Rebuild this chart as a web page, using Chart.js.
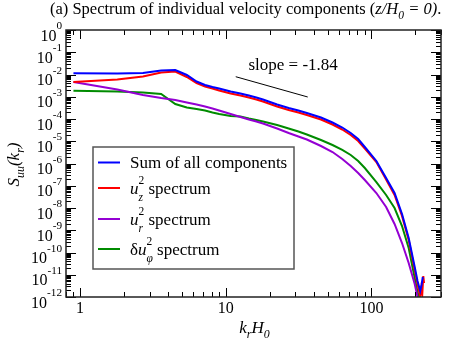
<!DOCTYPE html>
<html>
<head>
<meta charset="utf-8">
<script src="https://cdn.jsdelivr.net/npm/chart.js@4.4.1/dist/chart.umd.min.js"></script>
<style>
body { margin: 0; background: #fff; }
#wrap { width: 457px; height: 342px; }
</style>
</head>
<body>
<div id="wrap"><canvas id="specChart"></canvas></div>
<script>
// k_r H_0 sample points shared by the four spectra
const krH0 = [0.9, 1.8, 2.7, 3.6, 4.5, 5.4, 6.3, 7.2, 8.1, 9, 10.8, 12.6, 14.4, 16.2, 18, 22.5, 27, 31.5, 36, 45, 54, 63, 72, 81, 90, 108, 126, 144, 162, 180, 198, 207];

const sumAll = [1.13e-2, 1.11e-2, 1.17e-2, 1.51e-2, 1.59e-2, 9.5e-3, 4.85e-3, 3.37e-3, 2.74e-3, 2.35e-3, 1.72e-3, 1.40e-3, 1.14e-3, 9.25e-4, 7.52e-4, 4.49e-4, 3.12e-4, 2.41e-4, 1.86e-4, 1.17e-4, 6.96e-5, 4.15e-5, 2.35e-5, 1.26e-5, 5.52e-6, 1.30e-6, 2.23e-7, 4.72e-8, 5.37e-9, 4.49e-10, 2.23e-11, 5.24e-12];
const sumTailK = [216, 220.5, 225];
const sumTail = [1.86e-12, 3.46e-12, 7.93e-12];

const uzSpec = [4.60e-3, 5.96e-3, 8.13e-3, 1.23e-2, 1.36e-2, 7.72e-3, 4.15e-3, 2.89e-3, 2.35e-3, 1.91e-3, 1.40e-3, 1.14e-3, 9.25e-4, 7.52e-4, 6.12e-4, 3.65e-4, 2.54e-4, 1.96e-4, 1.51e-4, 9.50e-5, 5.66e-5, 3.37e-5, 1.91e-5, 1.03e-5, 4.72e-6, 1.17e-6, 1.91e-7, 3.84e-8, 4.37e-9, 3.65e-10, 1.63e-11, 3.84e-12];
const uzTailK = [216, 219.6, 223.2, 226.8, 229.5];
const uzTail = [1.05e-12, 2.54e-12, 1.36e-12, 8.8e-12, 4.26e-12];

const urSpec = [4.60e-3, 2.12e-3, 1.20e-3, 8.79e-4, 7.14e-4, 5.52e-4, 4.49e-4, 3.65e-4, 2.96e-4, 2.41e-4, 1.68e-4, 1.23e-4, 9.50e-5, 7.73e-5, 6.28e-5, 3.74e-5, 2.35e-5, 1.63e-5, 1.20e-5, 6.12e-6, 3.29e-6, 1.59e-6, 7.72e-7, 3.74e-7, 1.81e-7, 4.72e-8, 1.11e-8, 1.91e-9, 2.67e-10, 3.37e-11, 3.84e-12, 1.0e-12];

const uphiSpec = [1.87e-3, 1.72e-3, 1.55e-3, 1.33e-3, 4.72e-4, 3.29e-4, 2.81e-4, 2.41e-4, 1.96e-4, 1.68e-4, 1.36e-4, 1.29e-4, 1.05e-4, 9.02e-5, 7.73e-5, 5.37e-5, 3.74e-5, 2.74e-5, 2.01e-5, 1.14e-5, 6.78e-6, 4.05e-6, 2.41e-6, 1.30e-6, 6.28e-7, 1.47e-7, 3.84e-8, 1.0e-8, 1.55e-9, 1.59e-10, 7.14e-12, 1.68e-12];
const uphiTailK = [211.5];
const uphiTail = [1.0e-12];

// reference slope line
const slopeK = [11.7, 36.5];
const slopeS = [7.96e-3, 9.75e-4];

const seriesColors = ["#0000ff", "#ff0000", "#9400d3", "#008b00"];
const xTickLabels = [1, 10, 100];
const yTickExps = [0, -1, -2, -3, -4, -5, -6, -7, -8, -9, -10, -11, -12];

function pts(ks, vals) {
  return ks.map((k, i) => ({ x: k, y: vals[i] }));
}

const FAM = '"Liberation Serif", "Times New Roman", serif';
function fnt(size, italic) {
  return (italic ? "italic " : "") + size + "px " + FAM;
}

// parts: {t, i (italic), sub, sup}
function drawRich(ctx, parts, x, y, size, align, supDy, subDy) {
  const small = size * 0.7;
  supDy = supDy === undefined ? -0.62 * size : supDy;
  subDy = subDy === undefined ? 0.42 * size : subDy;
  let w = 0;
  for (const p of parts) {
    ctx.font = fnt(p.sub || p.sup ? small : size, p.i);
    w += ctx.measureText(p.t).width;
  }
  let cx = align === "right" ? x - w : align === "center" ? x - w / 2 : x;
  ctx.textAlign = "left";
  ctx.textBaseline = "alphabetic";
  for (const p of parts) {
    ctx.font = fnt(p.sub || p.sup ? small : size, p.i);
    const dy = p.sub ? subDy : p.sup ? supDy : 0;
    ctx.fillText(p.t, cx, y + dy);
    cx += ctx.measureText(p.t).width;
  }
}

const decorations = {
  id: "decorations",
  afterDatasetsDraw(chart) {
    const ctx = chart.ctx;
    const a = chart.chartArea;
    const xs = chart.scales.x;
    const ys = chart.scales.y;
    ctx.save();

    // inward tick marks on all four sides
    ctx.strokeStyle = "#000";
    ctx.lineWidth = 1;
    ctx.beginPath();
    for (let d = -1; d <= 2; d++) {
      for (let m = 1; m <= 9; m++) {
        const v = m * Math.pow(10, d);
        if (v < xs.min || v > xs.max) continue;
        const px = Math.round(xs.getPixelForValue(v)) + 0.5;
        const len = m === 1 ? 9 : 5;
        ctx.moveTo(px, a.bottom); ctx.lineTo(px, a.bottom - len);
        ctx.moveTo(px, a.top); ctx.lineTo(px, a.top + len);
      }
    }
    for (let d = -12; d <= 0; d++) {
      for (let m = 1; m <= 9; m++) {
        const v = m * Math.pow(10, d);
        if (v < ys.min * 0.999 || v > ys.max * 1.001) continue;
        const py = Math.round(ys.getPixelForValue(v)) + 0.5;
        const len = m === 1 ? 10 : 5;
        ctx.moveTo(a.left, py); ctx.lineTo(a.left + len, py);
        ctx.moveTo(a.right, py); ctx.lineTo(a.right - len, py);
      }
    }
    ctx.stroke();

    // frame
    ctx.strokeStyle = "#222";
    ctx.lineWidth = 1.5;
    ctx.strokeRect(a.left, a.top, a.right - a.left, a.bottom - a.top);

    ctx.fillStyle = "#000";
    // x tick labels
    for (const v of xTickLabels) {
      drawRich(ctx, [{ t: String(v) }], xs.getPixelForValue(v), a.bottom + 16, 16, "center");
    }
    // y tick labels
    for (const e of yTickExps) {
      const py = ys.getPixelForValue(Math.pow(10, e));
      drawRich(ctx, [{ t: "10" }, { t: String(e), sup: true }], 62, py + 10.5, 16, "right", -11.5);
    }

    // axis titles
    drawRich(ctx, [{ t: "k", i: true }, { t: "r", i: true, sub: true }, { t: "H", i: true }, { t: "0", i: true, sub: true }],
      (a.left + a.right) / 2 + 1, a.bottom + 36, 17, "center", 0, 5);
    ctx.save();
    ctx.translate(19, (a.top + a.bottom) / 2 + 1);
    ctx.rotate(-Math.PI / 2);
    drawRich(ctx, [{ t: "S", i: true }, { t: "uu", i: true, sub: true }, { t: "(k", i: true }, { t: "r", i: true, sub: true }, { t: ")", i: true }],
      0, 0, 17, "center", 0, 5);
    ctx.restore();

    // title
    drawRich(ctx, [
      { t: "(a) Spectrum of individual velocity components (" },
      { t: "z/H", i: true }, { t: "0", i: true, sub: true }, { t: " = 0)", i: true }, { t: "." }
    ], 50, 14, 16.5, "left", 0, 5);

    // slope annotation
    drawRich(ctx, [{ t: "slope = -1.84" }], xs.getPixelForValue(14.3), ys.getPixelForValue(1.6e-2), 17, "left");

    // legend
    const lx = 93, ly = 147, lw = 201, lh = 122;
    ctx.fillStyle = "#fff";
    ctx.fillRect(lx, ly, lw, lh);
    ctx.strokeStyle = "#555";
    ctx.lineWidth = 1.5;
    ctx.strokeRect(lx, ly, lw, lh);
    const rows = [
      [{ t: "Sum of all components" }],
      [{ t: "u", i: true }, { t: "z", i: true, sub: true }, { t: "2", sup: true, back: true }, { t: " spectrum" }],
      [{ t: "u", i: true }, { t: "r", i: true, sub: true }, { t: "2", sup: true, back: true }, { t: " spectrum" }],
      [{ t: "\u03b4" }, { t: "u", i: true }, { t: "\u03c6", i: true, sub: true }, { t: "2", sup: true, back: true }, { t: " spectrum" }]
    ];
    const rowY = [162.5, 188, 219, 249];
    rows.forEach((r, i) => {
      ctx.strokeStyle = seriesColors[i];
      ctx.lineWidth = 2;
      ctx.beginPath();
      ctx.moveTo(98, rowY[i]);
      ctx.lineTo(120, rowY[i]);
      ctx.stroke();
      ctx.fillStyle = "#000";
      // superscript sits above the subscript
      let cx = 130;
      const base = rowY[i] + 5.5;
      let subX = null;
      for (const p of r) {
        const s = p.sub || p.sup ? 11.5 : 17;
        ctx.font = fnt(s, p.i);
        ctx.textAlign = "left";
        ctx.textBaseline = "alphabetic";
        let x0 = cx;
        if (p.back && subX !== null) x0 = subX;
        const dy = p.sub ? 7 : p.sup ? -10 : 0;
        ctx.fillText(p.t, x0, base + dy);
        const w = ctx.measureText(p.t).width;
        if (p.sub) { subX = cx; cx += w; }
        else if (p.back) { cx = Math.max(cx, x0 + w); }
        else cx += w;
      }
    });

    ctx.restore();
  }
};

new Chart("specChart", {
  type: "line",
  data: {
    datasets: [
      { data: pts(krH0.concat(sumTailK), sumAll.concat(sumTail)), borderColor: seriesColors[0] },
      { data: pts(krH0.concat(uzTailK), uzSpec.concat(uzTail)), borderColor: seriesColors[1] },
      { data: pts(krH0, urSpec), borderColor: seriesColors[2] },
      { data: pts(krH0.concat(uphiTailK), uphiSpec.concat(uphiTail)), borderColor: seriesColors[3] },
      { data: pts(slopeK, slopeS), borderColor: "#000", borderWidth: 1 }
    ]
  },
  options: {
    responsive: true,
    maintainAspectRatio: false,
    animation: false,
    layout: { padding: { left: 66, right: 16, top: 30, bottom: 45 } },
    elements: {
      line: { borderWidth: 2, tension: 0, fill: false },
      point: { radius: 0 }
    },
    plugins: {
      legend: { display: false },
      tooltip: { enabled: false }
    },
    scales: {
      x: {
        type: "logarithmic",
        min: 0.8,
        max: 300,
        ticks: { display: false },
        grid: { display: false, drawTicks: false },
        border: { display: false }
      },
      y: {
        type: "logarithmic",
        min: 1e-12,
        max: 1,
        ticks: { display: false },
        grid: { display: false, drawTicks: false },
        border: { display: false }
      }
    }
  },
  plugins: [decorations]
});
</script>
</body>
</html>
